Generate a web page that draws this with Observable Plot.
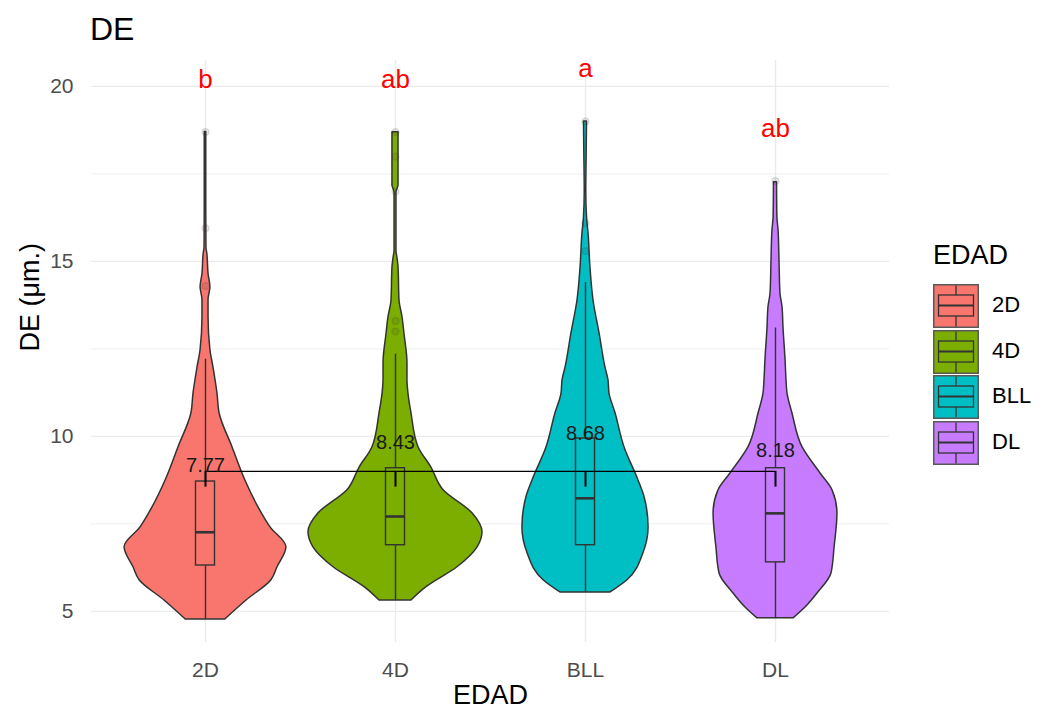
<!DOCTYPE html>
<html><head><meta charset="utf-8">
<script src="https://cdn.jsdelivr.net/npm/d3@7"></script>
<script src="https://cdn.jsdelivr.net/npm/@observablehq/plot@0.6"></script>
<style>
body{margin:0;background:#fff;font-family:"Liberation Sans",Arial,sans-serif;}
#wrap{position:relative;width:1041px;height:715px;overflow:hidden;}
#title{position:absolute;left:90px;top:13px;font-size:32px;line-height:32px;color:#000;}
.lg{position:absolute;}
</style></head><body>
<div id="wrap"><div id="chart"></div><div id="title">DE</div><div id="legend"></div></div>
<script>
// ---- data ----
const groups = ["2D", "4D", "BLL", "DL"];
const colors = ["#F8766D", "#7CAE00", "#00BFC4", "#C77CFF"];
// violin half-width (in category units) at each DE value
const density2D = [[4.77,.105],[5.31,.216],[5.89,.347],[6.26,.379],[6.83,.426],[7.4,.342],[7.97,.279],[8.74,.21],[9.69,.142],[10.66,.074],[11.23,.063],[11.6,.053],[11.97,.042],[12.46,.026],[13.4,.016],[13.9,.016],[14.26,.026],[14.64,.016],[15.2,.01],[15.4,.005],[16.5,.004],[18.7,.004]];
const density4D = [[5.31,.084],[5.69,.163],[6.26,.326],[6.83,.432],[7.26,.458],[7.8,.405],[8.46,.253],[9.11,.189],[9.69,.121],[10.66,.084],[11.23,.068],[11.6,.063],[12.09,.063],[12.94,.047],[13.4,.037],[13.89,.021],[14.83,.016],[15.11,.01],[15.3,.005],[16.97,.005],[17.17,.016],[18.69,.016]];
const densityBLL = [[5.54,.132],[5.89,.221],[6.66,.305],[7.4,.332],[8.26,.311],[8.74,.279],[9.69,.205],[10.66,.158],[11.23,.126],[11.6,.121],[11.97,.105],[12.94,.074],[13.89,.042],[14.83,.026],[15.8,.016],[16.26,.008],[17.0,.004],[18.0,.006],[19.0,.008]];
const densityDL = [[4.8,.095],[5.11,.158],[5.51,.221],[6.09,.295],[6.83,.311],[7.8,.326],[8.46,.3],[8.94,.237],[9.69,.142],[10.66,.089],[11.23,.063],[11.6,.058],[12.17,.053],[13.11,.042],[13.69,.037],[14.09,.026],[15.03,.021],[15.89,.016],[16.26,.01],[17.26,.008]];
const densities = [density2D, density4D, densityBLL, densityDL];
const q1 = [6.31, 6.89, 6.89, 6.40];
const medians = [7.26, 7.71, 8.23, 7.80];
const q3 = [8.71, 9.09, 9.94, 9.09];
const whiskerLow = [4.77, 5.31, 5.54, 4.80];
const whiskerHigh = [12.2, 12.35, 14.4, 13.1];
const outliers = [["2D",14.3],["2D",15.95],["2D",18.7],["4D",13.0],["4D",13.3],["4D",17.0],["4D",18.0],["4D",18.7],["BLL",15.3],["BLL",16.1],["BLL",19.0],["DL",17.3]];
const means = [7.77, 8.43, 8.68, 8.18];
const maxima = [18.7, 18.7, 19.0, 17.3];
const letters = ["b", "ab", "a", "ab"];
const bracketY = 9.0, bracketTickY = 8.55;
const yTicks = [5, 10, 15, 20];
const yMinor = [7.5, 12.5, 17.5];

// ---- build tables ----
const violinRows = densities.flatMap((arr, i) => arr.map(([y, w]) => ({g: groups[i], i: i + 1, y, w})));
const pos = g => groups.indexOf(g) + 1;
const boxW = 0.05;
const font = "Liberation Sans, Arial, sans-serif";

const chart = Plot.plot({
  width: 1041, height: 715,
  marginLeft: 91, marginRight: 152, marginTop: 60, marginBottom: 73,
  x: {domain: [0.4, 4.6], axis: null},
  y: {domain: [4.11, 20.74], axis: null},
  color: {domain: groups, range: colors},
  style: {fontFamily: font, background: "#fff", overflow: "visible"},
  marks: [
    Plot.gridY(yMinor, {stroke: "#ebebeb", strokeOpacity: 1, strokeWidth: 0.8}),
    Plot.gridY(yTicks, {stroke: "#ebebeb", strokeOpacity: 1, strokeWidth: 1.4}),
    Plot.gridX([1, 2, 3, 4], {stroke: "#ebebeb", strokeOpacity: 1, strokeWidth: 1.4}),
    Plot.axisY(yTicks, {tickSize: 0, tickPadding: 18, fontSize: 21, fill: "#4d4d4d", label: null}),
    Plot.axisX([1, 2, 3, 4], {tickSize: 0, tickPadding: 20, fontSize: 21, fill: "#4d4d4d", label: null, tickFormat: i => groups[i - 1]}),
    Plot.text(["DE (μm.)"], {frameAnchor: "left", dx: -61, rotate: -90, fontSize: 27, fill: "#000"}),
    Plot.text(["EDAD"], {frameAnchor: "bottom", dy: 61, fontSize: 27, fill: "#000"}),
    Plot.areaX(violinRows, {y: "y", x1: d => d.i - d.w, x2: d => d.i + d.w, z: "g", fill: "g", stroke: "#333", strokeWidth: 1.5, curve: "monotone-y"}),
    Plot.ruleX(groups, {x: (d, i) => i + 1, y1: (d, i) => whiskerLow[i], y2: (d, i) => whiskerHigh[i], stroke: "#333", strokeWidth: 1.4}),
    Plot.rect(groups, {x1: (d, i) => i + 1 - boxW, x2: (d, i) => i + 1 + boxW, y1: (d, i) => q1[i], y2: (d, i) => q3[i], fill: d => d, stroke: "#333", strokeWidth: 1.4}),
    Plot.ruleY(groups, {y: (d, i) => medians[i], x1: (d, i) => i + 1 - boxW, x2: (d, i) => i + 1 + boxW, stroke: "#333", strokeWidth: 2.6}),
    Plot.dot(outliers, {x: d => pos(d[0]), y: d => d[1], r: 3.5, fill: "#333", fillOpacity: 0.12, stroke: "#333", strokeOpacity: 0.12}),
    Plot.ruleY([bracketY], {x1: 1, x2: 4, stroke: "#000", strokeWidth: 1.4}),
    Plot.ruleX([1, 2, 3, 4], {y1: bracketTickY, y2: bracketY, stroke: "#000", strokeWidth: 2}),
    Plot.text(groups, {x: (d, i) => i + 1, y: (d, i) => means[i] + 1.4, text: (d, i) => means[i].toFixed(2), fontSize: 20, fill: "#1a1a1a"}),
    Plot.text(groups, {x: (d, i) => i + 1, y: (d, i) => maxima[i] + 1.5, text: (d, i) => letters[i], fontSize: 26, fill: "#ff0000"})
  ]
});
document.getElementById("chart").appendChild(chart);

// ---- legend ----
const lg = d3.select("#legend");
lg.append("div").attr("class", "lg").style("left", "933px").style("top", "242px")
  .style("font-size", "27px").style("line-height", "27px").text("EDAD");
groups.forEach((g, i) => {
  const top = 284 + i * 45.7;
  const svg = lg.append("svg").attr("class", "lg").attr("width", 46).attr("height", 44)
    .style("left", "933px").style("top", top + "px");
  svg.append("rect").attr("x", 0.75).attr("y", 0.75).attr("width", 44.5).attr("height", 42.5)
    .attr("fill", colors[i]).attr("stroke", "#595959").attr("stroke-width", 1.5);
  svg.append("line").attr("x1", 23).attr("x2", 23).attr("y1", 1.5).attr("y2", 11).attr("stroke", "#333").attr("stroke-width", 1.3);
  svg.append("line").attr("x1", 23).attr("x2", 23).attr("y1", 32).attr("y2", 42.5).attr("stroke", "#333").attr("stroke-width", 1.3);
  svg.append("rect").attr("x", 5.5).attr("y", 11).attr("width", 35).attr("height", 21)
    .attr("fill", colors[i]).attr("stroke", "#333").attr("stroke-width", 1.3);
  svg.append("line").attr("x1", 5.5).attr("x2", 40.5).attr("y1", 21.5).attr("y2", 21.5).attr("stroke", "#333").attr("stroke-width", 2);
  lg.append("div").attr("class", "lg").style("left", "992px").style("top", (top + 10) + "px")
    .style("font-size", "22px").style("line-height", "22px").text(g);
});
</script>
</body></html>
